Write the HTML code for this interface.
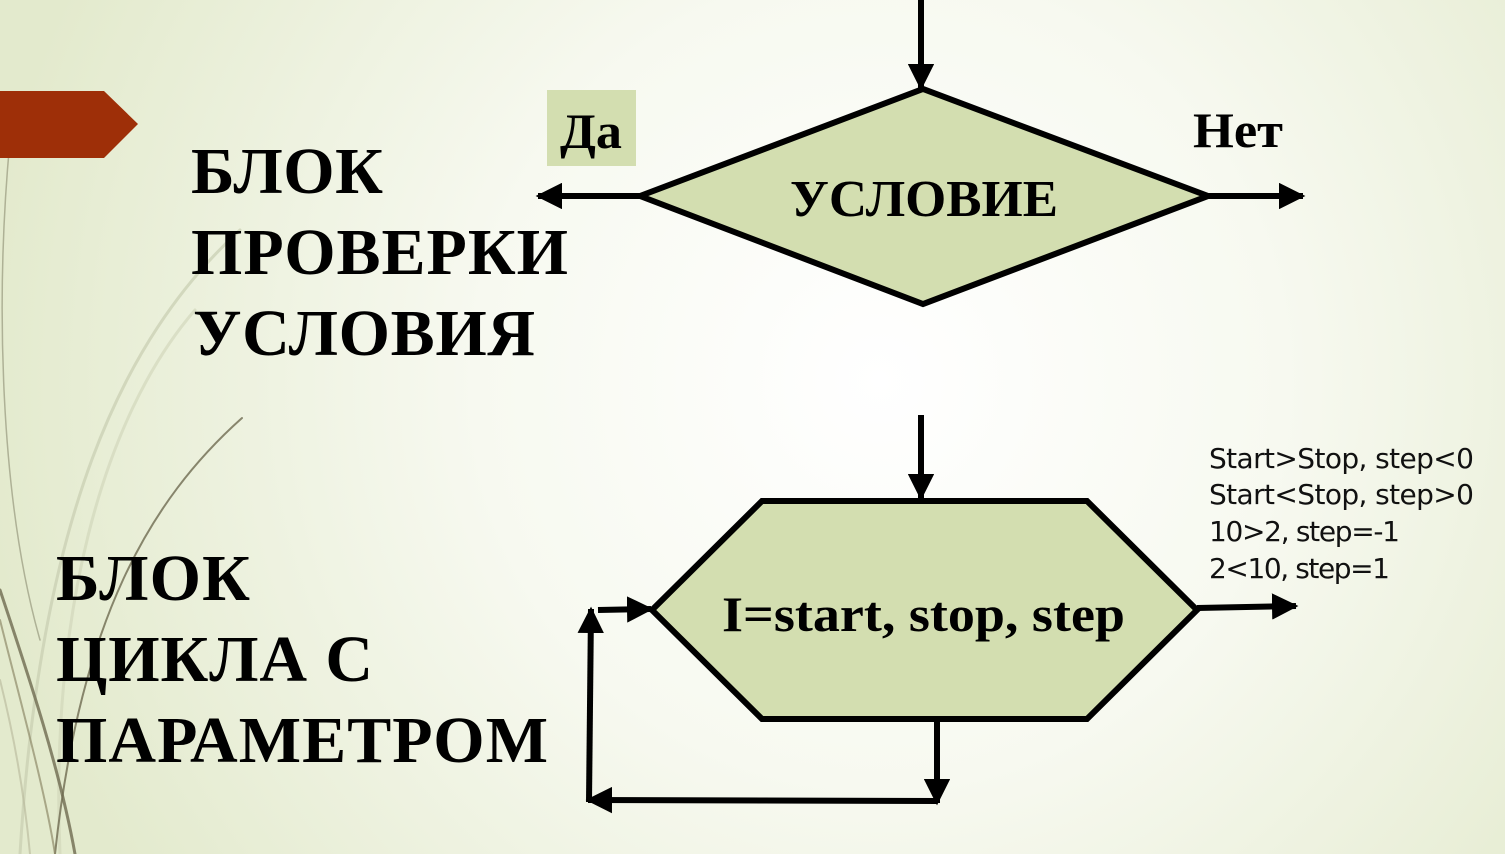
<!DOCTYPE html>
<html><head><meta charset="utf-8"><style>
html,body{margin:0;padding:0;width:1505px;height:854px;overflow:hidden}
svg{display:block}
</style></head><body>
<svg width="1505" height="854" viewBox="0 0 1505 854" xmlns="http://www.w3.org/2000/svg">
<defs>
<radialGradient id="bg" cx="880" cy="380" r="900" gradientUnits="userSpaceOnUse">
<stop offset="0" stop-color="#ffffff"/>
<stop offset="0.45" stop-color="#f7f9f0"/>
<stop offset="1" stop-color="#e3eacd"/>
</radialGradient>
<marker id="ah" markerWidth="4.4" markerHeight="4.4" refX="4" refY="2.2" orient="auto" markerUnits="strokeWidth">
<path d="M0,0 L4.4,2.2 L0,4.4 z" fill="#000"/>
</marker>
</defs>
<rect width="1505" height="854" fill="url(#bg)"/>
<g fill="none" stroke-linecap="round">
<path d="M10,140 C-5,300 0,500 40,640" stroke="#8a8a70" stroke-width="1.5" opacity="0.6"/>
<path d="M240,230 C120,340 40,520 20,854" stroke="#c8cdb0" stroke-width="3" opacity="0.7"/>
<path d="M195,310 C100,420 50,620 60,854" stroke="#cfd3b8" stroke-width="3" opacity="0.6"/>
<path d="M242,418 C150,500 80,620 55,854" stroke="#6e6a50" stroke-width="2" opacity="0.8"/>
<path d="M0,590 C30,680 60,770 75,854" stroke="#6e6a50" stroke-width="3" opacity="0.8"/>
<path d="M0,620 C20,700 45,790 55,854" stroke="#8f8a6a" stroke-width="2" opacity="0.7"/>
<path d="M0,680 C15,740 25,800 30,854" stroke="#b5b59a" stroke-width="2" opacity="0.6"/>
</g>
<polygon points="0,91 104,91 138,124 104,158 0,158" fill="#9e2f08"/>

<line x1="921" y1="0" x2="921" y2="88" stroke="#000" stroke-width="6" marker-end="url(#ah)"/>
<polygon points="640,196 923,89 1208,196 923,304" fill="#d3deb0" stroke="#000" stroke-width="6"/>
<text x="790" y="216" font-family="Liberation Serif, serif" font-weight="bold" font-size="52" textLength="268" lengthAdjust="spacingAndGlyphs">УСЛОВИЕ</text>
<line x1="640" y1="196" x2="538" y2="196" stroke="#000" stroke-width="6" marker-end="url(#ah)"/>
<line x1="1208" y1="196" x2="1303" y2="196" stroke="#000" stroke-width="6" marker-end="url(#ah)"/>
<rect x="547" y="90" width="89" height="76" fill="#d3deb0"/>
<text x="560" y="148" font-family="Liberation Serif, serif" font-weight="bold" font-size="50" textLength="62" lengthAdjust="spacingAndGlyphs">Да</text>
<text x="1193" y="147" font-family="Liberation Serif, serif" font-weight="bold" font-size="50" textLength="90" lengthAdjust="spacingAndGlyphs">Нет</text>

<g font-family="Liberation Serif, serif" font-weight="bold" font-size="66" lengthAdjust="spacing">
<text x="191" y="193" textLength="192">БЛОК</text>
<text x="191" y="274" textLength="377">ПРОВЕРКИ</text>
<text x="193" y="355" textLength="342">УСЛОВИЯ</text>
<text x="56" y="600" textLength="194">БЛОК</text>
<text x="56" y="681" textLength="317">ЦИКЛА С</text>
<text x="56" y="762" textLength="492">ПАРАМЕТРОМ</text>
</g>

<line x1="921" y1="415" x2="921" y2="498" stroke="#000" stroke-width="6" marker-end="url(#ah)"/>
<polygon points="652,610 762,501 1087,501 1197,610 1087,719 762,719" fill="#d3deb0" stroke="#000" stroke-width="6"/>
<text x="722" y="631" font-family="Liberation Serif, serif" font-weight="bold" font-size="50" textLength="403" lengthAdjust="spacingAndGlyphs">I=start, stop, step</text>
<line x1="1197" y1="608" x2="1296" y2="606" stroke="#000" stroke-width="6" marker-end="url(#ah)"/>
<line x1="937" y1="722" x2="937" y2="803" stroke="#000" stroke-width="6" marker-end="url(#ah)"/>
<line x1="937" y1="801" x2="588" y2="800" stroke="#000" stroke-width="6" marker-end="url(#ah)"/>
<line x1="589" y1="802" x2="591" y2="609" stroke="#000" stroke-width="6" marker-end="url(#ah)"/>
<line x1="598" y1="610" x2="651" y2="609" stroke="#000" stroke-width="6" marker-end="url(#ah)"/>

<g font-family="DejaVu Sans, sans-serif" font-size="28" fill="#111" lengthAdjust="spacingAndGlyphs">
<text x="1209" y="468" textLength="265">Start&gt;Stop, step&lt;0</text>
<text x="1209" y="504" textLength="265">Start&lt;Stop, step&gt;0</text>
<text x="1209" y="541" textLength="191">10&gt;2, step=-1</text>
<text x="1209" y="578" textLength="181">2&lt;10, step=1</text>
</g>
</svg>
</body></html>
